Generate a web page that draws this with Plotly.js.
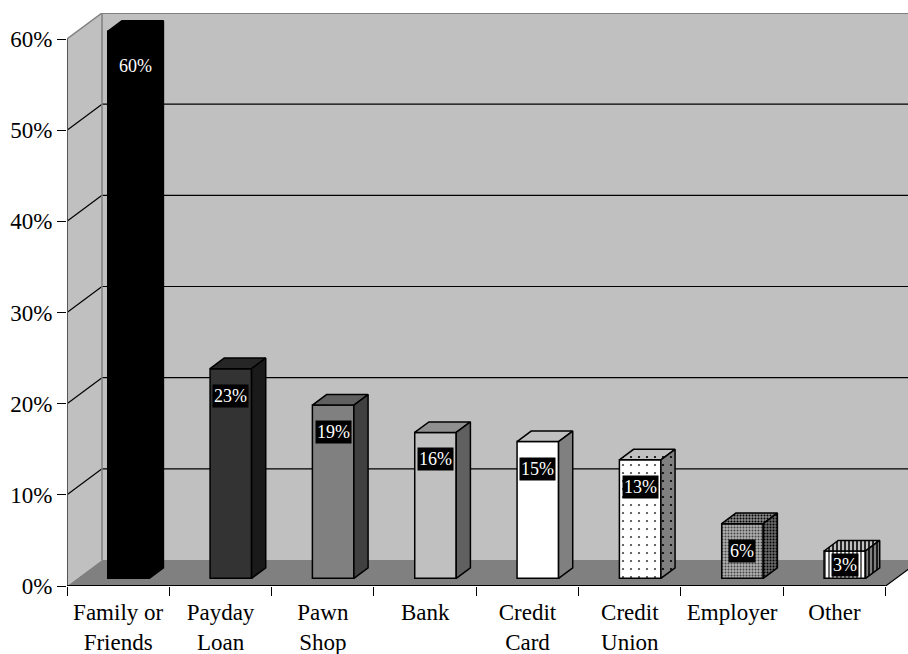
<!DOCTYPE html>
<html>
<head>
<meta charset="utf-8">
<script src="https://cdn.plot.ly/plotly-3.0.1.min.js"></script>
<style>
  html, body { margin: 0; padding: 0; background: #ffffff; }
  #chart { width: 908px; height: 654px; }
</style>
</head>
<body>
<div id="chart"></div>
<script>
// Where the money came from: share of respondents by source
const categories = ['Family or<br>Friends', 'Payday<br>Loan', 'Pawn<br>Shop', 'Bank',
                    'Credit<br>Card', 'Credit<br>Union', 'Employer', 'Other'];
const shares = [60, 23, 19, 16, 15, 13, 6, 3];
const yTickValues = [0, 10, 20, 30, 40, 50, 60];
const gridValues = [10, 20, 30, 40, 50];

// Face styles (front / top / side) and fill patterns per bar
const frontColors = ['#000000', '#333333', '#808080', '#c0c0c0', '#ffffff', '#ffffff', '#b0b0b0', '#ffffff'];
const topColors   = ['#000000', '#262626', '#606060', '#909090', '#c0c0c0', '#c0c0c0', '#8a8a8a', '#c0c0c0'];
const sideColors  = ['#000000', '#1a1a1a', '#404040', '#606060', '#808080', '#808080', '#6a6a6a', '#808080'];
const patternShapes   = ['', '', '', '', '', '.', '.', '|'];
const patternSizes    = [8, 8, 8, 8, 8, 8, 3, 4];
const patternSolidity = [0.1, 0.1, 0.1, 0.1, 0.1, 0.06, 0.35, 0.4];

// Layout geometry of the pseudo-3D box
const W = 908, H = 654;
const M = { l: 67, r: 0, t: 13, b: 68 };
const plotW = W - M.l - M.r;
const plotH = H - M.t - M.b;
const PX_X = 102.33;            // pixels per category slot
const PX_Y = 547 / 60;          // pixels per percentage point
const X_MAX = plotW / PX_X;
const Y_MAX = plotH / PX_Y;
const DX = 35 / PX_X;           // depth offset of the back wall, x units
const DY = 26 / PX_Y;           // depth offset of the back wall, y units
const Z0 = 0.295, Z1 = 0.70;    // front / back of each bar as depth fractions
const HALF = 20.75 / PX_X;      // half bar width
const N = categories.length;
const TOP = yTickValues[yTickValues.length - 1];

const FONT = 'Liberation Serif, Times New Roman, serif';
const WALL = '#c0c0c0', FLOOR = '#808080', EDGE = '#808080';

// Walls, floor, gridlines
const shapes = [];
function poly(pts, fill) {
  const d = pts.map((p, k) => (k ? 'L' : 'M') + p[0] + ',' + p[1]).join(' ') + ' Z';
  shapes.push({ type: 'path', path: d, xref: 'x', yref: 'y', layer: 'below',
                fillcolor: fill, line: { width: 0 } });
}
function seg(x0, y0, x1, y1, color, width) {
  shapes.push({ type: 'line', x0, y0, x1, y1, xref: 'x', yref: 'y', layer: 'below',
                line: { color, width } });
}
const FAR = N + DX + 1;
poly([[DX, DY], [FAR, DY], [FAR, TOP + DY], [DX, TOP + DY]], WALL);
poly([[0, 0], [0, TOP], [DX, TOP + DY], [DX, DY]], WALL);
poly([[0, 0], [N, 0], [N + DX, DY], [DX, DY]], FLOOR);
gridValues.forEach(v => {
  seg(0, v, DX, v + DY, '#000000', 1.2);
  seg(DX, v + DY, FAR, v + DY, '#000000', 1.2);
});
seg(DX, DY, DX, TOP + DY, EDGE, 1.5);
seg(DX, TOP + DY, FAR, TOP + DY, EDGE, 2);
seg(0, TOP, DX, TOP + DY, EDGE, 1.5);
seg(0, 0, 0, TOP, '#555555', 2);
seg(0, 0, N, 0, '#000000', 2);
seg(N, 0, N + DX, DY, '#000000', 1.2);

// Bars: front faces as a bar trace, top and side faces as filled polygons
const frontX = shares.map((v, i) => i + 0.5 + Z0 * DX);
const depthX = (Z1 - Z0) * DX, depthY = (Z1 - Z0) * DY;
const base = Z0 * DY;

const traces = [{
  type: 'bar',
  x: frontX,
  y: shares,
  base: base,
  width: 2 * HALF,
  marker: {
    color: frontColors,
    line: { color: '#000000', width: 1.5 },
    pattern: {
      shape: patternShapes,
      fillmode: 'overlay',
      fgcolor: '#000000',
      fgopacity: 1,
      size: patternSizes,
      solidity: patternSolidity
    }
  },
  hoverinfo: 'skip',
  showlegend: false
}];

shares.forEach((v, i) => {
  const xl = frontX[i] - HALF, xr = frontX[i] + HALF;
  const yt = v + base;
  const faces = [
    { xs: [xl, xr, xr + depthX, xl + depthX, xl], ys: [yt, yt, yt + depthY, yt + depthY, yt], color: topColors[i] },
    { xs: [xr, xr, xr + depthX, xr + depthX, xr], ys: [base, yt, yt + depthY, base + depthY, base], color: sideColors[i] }
  ];
  faces.forEach(f => {
    const t = {
      type: 'scatter', mode: 'lines', x: f.xs, y: f.ys,
      fill: 'toself', fillcolor: f.color,
      line: { color: '#000000', width: 1.5 },
      hoverinfo: 'skip', showlegend: false
    };
    if (patternShapes[i]) {
      t.fillpattern = { shape: patternShapes[i], fillmode: 'overlay', fgcolor: '#000000',
                        fgopacity: 1, size: patternSizes[i], solidity: patternSolidity[i] };
    }
    traces.push(t);
  });
});

// Value labels on the front faces
const annotations = shares.map((v, i) => ({
  x: frontX[i], y: v + base, xref: 'x', yref: 'y',
  text: v + '%', showarrow: false,
  xanchor: 'center', yanchor: 'middle',
  yshift: -Math.min(v > 40 ? 35 : 27, v * PX_Y / 2),
  xshift: v > 40 ? 7 : 0,
  bgcolor: '#000000', borderpad: 1,
  font: { family: FONT, size: 18, color: '#ffffff' }
}));

const layout = {
  width: W, height: H,
  margin: M,
  paper_bgcolor: '#ffffff',
  plot_bgcolor: 'rgba(0,0,0,0)',
  showlegend: false,
  xaxis: {
    range: [0, X_MAX],
    showgrid: false, zeroline: false, showline: false,
    tickmode: 'array',
    tickvals: categories.map((c, i) => i + 0.5),
    ticktext: categories,
    ticks: '',
    ticklabelstandoff: 10,
    tickfont: { family: FONT, size: 23, color: '#000000' },
    minor: {
      tickmode: 'array',
      tickvals: categories.map((c, i) => i).concat([N]),
      ticks: 'outside', ticklen: 9, tickwidth: 1, tickcolor: '#000000',
      showgrid: false
    },
    fixedrange: true
  },
  yaxis: {
    range: [0, Y_MAX],
    showgrid: false, zeroline: false, showline: false,
    tickmode: 'array',
    tickvals: yTickValues,
    ticktext: yTickValues.map(v => v + '%'),
    ticks: 'outside', ticklen: 9, tickwidth: 1, tickcolor: '#000000',
    tickfont: { family: FONT, size: 23, color: '#000000' },
    fixedrange: true
  },
  shapes: shapes,
  annotations: annotations
};

Plotly.newPlot('chart', traces, layout, { displayModeBar: false, staticPlot: true });
</script>
</body>
</html>
